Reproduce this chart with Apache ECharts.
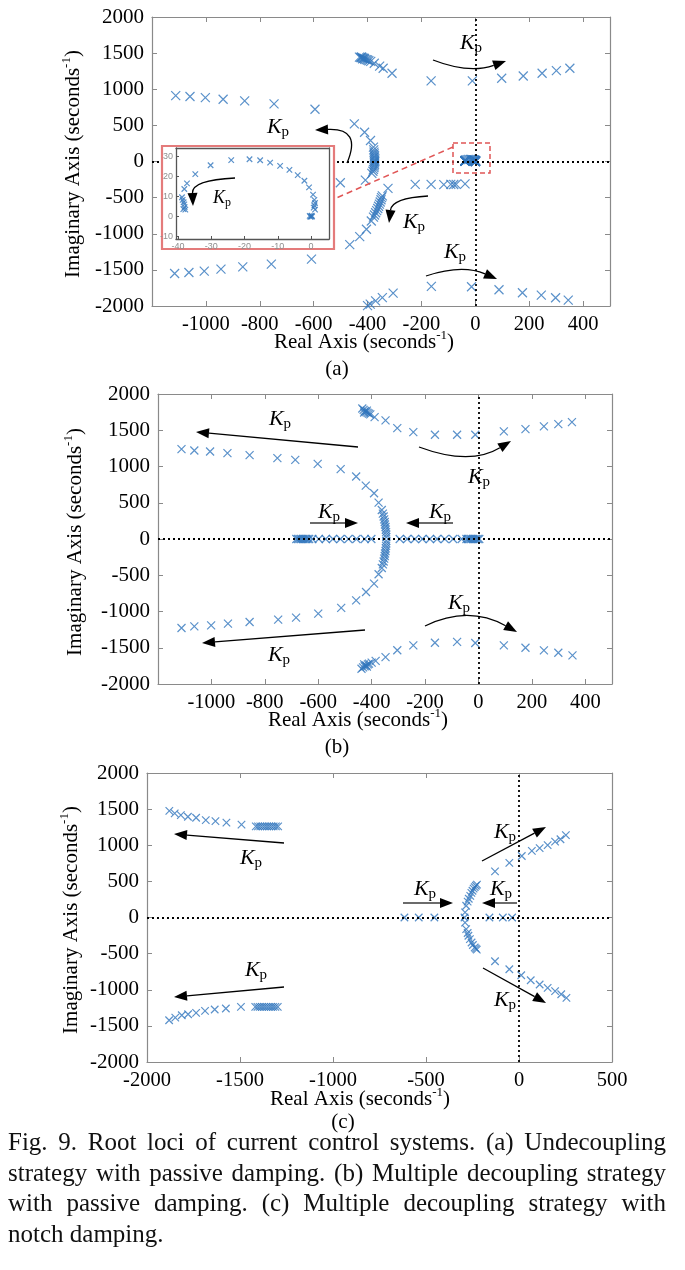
<!DOCTYPE html>
<html><head><meta charset="utf-8">
<script src="https://cdn.jsdelivr.net/npm/echarts@6/dist/echarts.min.js"></script>
<style>
html,body{margin:0;padding:0;background:#fff;}
#chart{position:absolute;left:0;top:0;width:685px;height:1270px;}
#cap{position:absolute;left:8px;top:1127px;width:658px;font-family:"Liberation Serif","Times New Roman",serif;font-size:25px;line-height:30.7px;color:#111;}
#cap .j{text-align:justify;text-align-last:justify;}
</style></head>
<body>
<div id="chart"></div>
<div id="cap">
<div class="j">Fig. 9. Root loci of current control systems. (a) Undecoupling</div>
<div class="j">strategy with passive damping. (b) Multiple decoupling strategy</div>
<div class="j">with passive damping. (c) Multiple decoupling strategy with</div>
<div>notch damping.</div>
</div>
<script>
// ---------- tick labels ----------
const abXTicks = [-1000, -800, -600, -400, -200, 0, 200, 400];
const cXTicks = [-2000, -1500, -1000, -500, 0, 500];
const yTicks = [-2000, -1500, -1000, -500, 0, 500, 1000, 1500, 2000];
const insetXTicks = [-40, -30, -20, -10, 0];
const insetYTicks = [-10, 0, 10, 20, 30];

// ---------- (a) undecoupling, passive damping ----------
const aUpperRight = [[-430,1445],[-425,1440],[-422,1447],[-420,1435],[-415,1430],[-418,1420],[-412,1425],[-410,1415],[-405,1410],[-400,1405],[-395,1395],[-388,1385],[-375,1360],[-355,1320],[-342,1290],[-309,1221],[-164,1115],[-11,1115],[98,1152],[178,1184],[248,1221],[301,1258],[351,1290]];
const aUpperLeft = [[-1112,912],[-1059,899],[-1002,885],[-936,862],[-856,839],[-747,797],[-595,723],[-449,521],[-411,405],[-389,290],[-378,198],[-377,160],[-376,130],[-375,105],[-374,80],[-374,60],[-373,40],[-373,20],[-373,0],[-374,-20],[-374,-40],[-375,-60],[-376,-85],[-378,-110],[-380,-135],[-384,-165],[-408,-258],[-501,-294]];
const aLowerLeft = [[-1116,-1550],[-1063,-1536],[-1006,-1518],[-944,-1490],[-863,-1458],[-757,-1421],[-608,-1352],[-466,-1150],[-429,-1039],[-404,-938],[-386,-823],[-378,-770],[-374,-740],[-370,-710],[-366,-680],[-362,-650],[-359,-620],[-356,-590],[-353,-560],[-350,-530],[-348,-500],[-345,-475],[-324,-372]];
const aNegRow = [[-223,-317],[-164,-317],[-117,-320],[-91,-317],[-80,-318],[-71,-317],[-38,-310]];
const aLowerRight = [[-400,-1995],[-390,-1975],[-370,-1930],[-345,-1885],[-305,-1821],[-163,-1728],[-14,-1734],[88,-1775],[175,-1817],[245,-1849],[298,-1886],[345,-1918]];
const aNearOrigin = [[-38.8,9.5],[-38.6,8.2],[-38.3,7.0],[-38.1,5.9],[-38.0,4.6],[-37.8,3.3],[-38.4,3.6],[-38.1,13.6],[-37.3,16.4],[-34.8,21],[-30.2,25.4],[-24,28],[-18.5,28.4],[-15.3,27.9],[-12.3,26.7],[-9.3,25.1],[-6.5,23.1],[-4,20.5],[-2,17.7],[-0.6,14.4],[0.6,10.8],[1.0,8.2],[1.2,6.6],[1.0,5.4],[0.8,4.3],[1.2,3.3],[-0.4,0.2],[0,0],[0.3,-0.1],[-0.2,-0.3],[0.2,0.3]];

// ---------- (b) multiple decoupling, passive damping ----------
const bUpperRight = [[-435,1800],[-430,1780],[-428,1745],[-425,1765],[-420,1750],[-418,1770],[-415,1740],[-410,1730],[-405,1720],[-389,1682],[-348,1636],[-304,1530],[-244,1475],[-163,1438],[-80,1438],[-12,1438],[95,1484],[176,1516],[245,1553],[299,1585],[350,1613]];
const bUpperLeft = [[-1112,1240],[-1064,1221],[-1005,1207],[-940,1184],[-857,1157],[-753,1115],[-686,1092],[-602,1037],[-516,963],[-458,862],[-422,737],[-391,631],[-374,502],[-362,400],[-358,350],[-355,310],[-353,270],[-351,235],[-350,200],[-348,165],[-347,130],[-346,95],[-345,60],[-345,25]];
const bLowerLeft = [[-345,-25],[-345,-60],[-346,-95],[-347,-130],[-348,-165],[-350,-200],[-351,-235],[-353,-270],[-355,-310],[-358,-350],[-362,-400],[-374,-486],[-391,-615],[-421,-731],[-458,-846],[-514,-951],[-600,-1030],[-683,-1085],[-750,-1113],[-857,-1145],[-938,-1168],[-1001,-1191],[-1064,-1205],[-1112,-1228]];
const bLowerRight = [[-438,-1790],[-432,-1770],[-428,-1730],[-426,-1755],[-420,-1745],[-418,-1760],[-414,-1730],[-410,-1720],[-400,-1705],[-385,-1680],[-348,-1630],[-304,-1535],[-244,-1468],[-163,-1431],[-80,-1420],[-12,-1435],[95,-1468],[176,-1500],[245,-1537],[299,-1569],[352,-1606]];
const bRealAxis = [[-682,0],[-676,0],[-670,0],[-664,0],[-658,0],[-652,0],[-646,0],[-640,0],[-634,0],[-622,0],[-598,0],[-572,0],[-545,0],[-517,0],[-487,0],[-457,0],[-426,0],[-401,0],[-295,0],[-267,0],[-238,0],[-210,0],[-182,0],[-155,0],[-126,0],[-95,0],[-63,0],[-45,0],[-39,0],[-33,0],[-27,0],[-21,0],[-15,0],[-9,0],[-3,0],[3,0]];

// ---------- (c) multiple decoupling, notch damping ----------
const cUpperLeft = [[-1880,1475],[-1851,1442],[-1818,1418],[-1780,1395],[-1736,1381],[-1684,1347],[-1632,1333],[-1573,1314],[-1492,1286],[-1415,1262],[-1403,1262],[-1391,1262],[-1379,1262],[-1367,1262],[-1355,1262],[-1343,1262],[-1331,1262],[-1319,1262],[-1307,1262],[-1295,1262]];
const cLowerLeft = [[-1881,-1422],[-1848,-1385],[-1813,-1353],[-1779,-1339],[-1736,-1320],[-1688,-1293],[-1636,-1274],[-1576,-1260],[-1495,-1237],[-1418,-1237],[-1406,-1237],[-1394,-1237],[-1382,-1237],[-1370,-1237],[-1358,-1237],[-1346,-1237],[-1334,-1237],[-1322,-1237],[-1310,-1237],[-1297,-1237]];
const cUpperRight = [[-129,638],[-52,757],[15,851],[69,922],[111,960],[154,1002],[194,1050],[223,1083],[252,1140]];
const cLowerRight = [[-129,-605],[-52,-716],[12,-799],[63,-868],[111,-928],[154,-974],[194,-1020],[227,-1062],[255,-1113]];
const cRealAxis = [[-616,0],[-539,0],[-455,0],[-293,0],[-159,0],[-87,0],[-37,0]];
const cArc = [[-290,70],[-284,162],[-276,220],[-270,260],[-262,300],[-256,340],[-250,370],[-244,400],[-238,420],[-232,440],[-226,455],[-290,-70],[-284,-161],[-276,-215],[-272,-253],[-264,-300],[-255,-346],[-248,-380],[-238,-415],[-232,-430],[-227,-445]];

// ---------- styling ----------
const SERIF = '"Liberation Serif","Times New Roman",serif';
const BLUE = '#3176bd';
const AXC = '#8a8a8a';
const CROSS = 'path://M0,0L10,10M10,0L0,10';
const plainNum = v => String(v);

function xAx(grid, min, max, ticks, pos, labels, extra) {
  return Object.assign({
    type: 'value', gridIndex: grid, min: min, max: max, position: pos,
    axisLine: { show: true, onZero: false, lineStyle: { color: AXC, width: 1.2 } },
    axisTick: { show: true, inside: true, length: 5, customValues: ticks, lineStyle: { color: AXC } },
    axisLabel: { show: labels, customValues: ticks, formatter: plainNum, color: '#000', fontFamily: SERIF, fontSize: 20.5, margin: 8 },
    splitLine: { show: false }
  }, extra || {});
}
function yAx(grid, min, max, ticks, pos, labels, extra) {
  return Object.assign({
    type: 'value', gridIndex: grid, min: min, max: max, position: pos,
    axisLine: { show: true, onZero: false, lineStyle: { color: AXC, width: 1.2 } },
    axisTick: { show: true, inside: true, length: 5, customValues: ticks, lineStyle: { color: AXC } },
    axisLabel: { show: labels, customValues: ticks, formatter: plainNum, color: '#000', fontFamily: SERIF, fontSize: 21, margin: 8 },
    splitLine: { show: false }
  }, extra || {});
}
const zeroLines = (w, dash) => ({
  silent: true, symbol: ['none', 'none'], label: { show: false },
  lineStyle: { color: '#000', type: dash, width: w }, emphasis: { disabled: true },
  data: [{ xAxis: 0 }, { yAxis: 0 }]
});
function sc(data, idx, size, z, ml) {
  const s = {
    type: 'scatter', xAxisIndex: idx, yAxisIndex: idx, data: data,
    symbol: CROSS, symbolSize: size, z: z,
    itemStyle: { color: 'rgba(0,0,0,0)', borderColor: BLUE, borderWidth: 1.2 },
    emphasis: { disabled: true }
  };
  if (ml) s.markLine = ml;
  return s;
}

// ---------- annotation helpers (pixel layout) ----------
function arrow(from, to, ctrl, lineColor) {
  const L = 13, W = 5;
  const src = ctrl || from;
  let dx = to[0] - src[0], dy = to[1] - src[1];
  const n = Math.hypot(dx, dy); dx /= n; dy /= n;
  const bx = to[0] - dx * L, by = to[1] - dy * L;
  const lc = lineColor || '#000';
  const els = [];
  if (ctrl) {
    els.push({ type: 'bezierCurve', z: 90, shape: { x1: from[0], y1: from[1], x2: bx, y2: by, cpx1: ctrl[0], cpy1: ctrl[1] }, style: { stroke: lc, lineWidth: 1.3, fill: null } });
  } else {
    els.push({ type: 'line', z: 90, shape: { x1: from[0], y1: from[1], x2: bx, y2: by }, style: { stroke: lc, lineWidth: lineColor ? 2 : 1.3 } });
  }
  els.push({ type: 'polygon', z: 91, shape: { points: [[to[0], to[1]], [bx - dy * W, by + dx * W], [bx + dy * W, by - dx * W]] }, style: { fill: '#000' } });
  return els;
}
function kp(x, y, big) {
  const fk = big ? 22 : 18, fp = big ? 15 : 12;
  return { type: 'text', z: 92, x: x, y: y, style: {
    text: '{k|K}{p|p}', align: 'center', verticalAlign: 'middle',
    rich: { k: { fontFamily: SERIF, fontStyle: 'italic', fontSize: fk, lineHeight: fk + 4, fill: '#000' },
            p: { fontFamily: SERIF, fontSize: fp, lineHeight: fp, verticalAlign: 'bottom', fill: '#000' } } } };
}
function title(x, y, txt, rot) {
  return { type: 'text', z: 92, x: x, y: y, rotation: rot ? Math.PI / 2 : 0, style: {
    text: txt, align: 'center', verticalAlign: 'middle',
    rich: { t: { fontFamily: SERIF, fontSize: 21, lineHeight: 26, fill: '#000' },
            s: { fontFamily: SERIF, fontSize: 13, lineHeight: 14, verticalAlign: 'top', fill: '#000' } } } };
}
const IMAG = '{t|Imaginary Axis (seconds}{s|-1}{t|)}';
const REAL = '{t|Real Axis (seconds}{s|-1}{t|)}';
function plain(x, y, txt) {
  return { type: 'text', z: 92, x: x, y: y, style: { text: txt, align: 'center', verticalAlign: 'middle', fontFamily: SERIF, fontSize: 21, fill: '#000' } };
}

const graphics = [].concat(
  // inset frame and zoom marker
  [{ type: 'rect', z: 50, shape: { x: 162, y: 146, width: 172, height: 103 }, style: { fill: '#fff', stroke: '#e47b7b', lineWidth: 2.2 } },
   { type: 'rect', z: 40, shape: { x: 453, y: 143, width: 37, height: 30 }, style: { fill: null, stroke: '#e05555', lineWidth: 1.5, lineDash: [5, 3] } },
   { type: 'line', z: 40, shape: { x1: 453, y1: 147, x2: 334, y2: 199 }, style: { stroke: '#e05555', lineWidth: 1.5, lineDash: [6, 4] } }],
  // (a)
  arrow([433, 60], [506, 61], [469, 74]), [kp(471, 43, true)],
  arrow([347, 163], [315, 130], [362, 128]), [kp(278, 127, true)],
  arrow([428, 196], [389, 223], [392, 198]), [kp(414, 222, true)],
  arrow([426, 276], [497, 279], [462, 264]), [kp(455, 252, true)],
  arrow([235, 178], [193, 206], [192, 180]), [kp(222, 198, false)],
  [title(73, 164, IMAG, true), title(364, 342, REAL), plain(337, 369, '(a)')],
  // (b)
  arrow([358, 447], [196, 432]), [kp(280, 419, true)],
  arrow([419, 447], [511, 441], [470, 466]), [kp(479, 477, true)],
  arrow([310, 523], [358, 523], null, '#6b6b6b'), [kp(329, 512, true)],
  arrow([453, 523], [406, 523], null, '#6b6b6b'), [kp(440, 512, true)],
  arrow([425, 626], [517, 632], [468, 605]), [kp(459, 603, true)],
  arrow([365, 630], [202, 643]), [kp(279, 655, true)],
  [title(75, 542, IMAG, true), title(358, 720, REAL), plain(337, 747, '(b)')],
  // (c)
  arrow([284, 843], [174, 834]), [kp(251, 858, true)],
  arrow([284, 987], [174, 997]), [kp(256, 970, true)],
  arrow([403, 903], [453, 903], null, '#6b6b6b'), [kp(425, 889, true)],
  arrow([517, 903], [482, 903], null, '#6b6b6b'), [kp(501, 889, true)],
  arrow([482, 861], [546, 827]), [kp(505, 832, true)],
  arrow([483, 968], [546, 1003]), [kp(505, 1000, true)],
  [title(71, 920, IMAG, true), title(360, 1099, REAL), plain(343, 1122, '(c)')]
);

const insetLabel = { color: '#8f8f8f', fontFamily: '"Liberation Sans",Arial,sans-serif', fontSize: 9, margin: 3, formatter: plainNum };
const insetLine = { show: true, onZero: false, lineStyle: { color: '#555', width: 1.3 } };

const option = {
  animation: false,
  backgroundColor: '#fff',
  grid: [
    { left: 152, top: 17, width: 458, height: 289 },
    { left: 158, top: 394, width: 454, height: 290 },
    { left: 147, top: 773, width: 465, height: 289 },
    { left: 176, top: 148, width: 153, height: 91 }
  ],
  xAxis: [
    xAx(0, -1200, 500, abXTicks, 'bottom', true),
    xAx(0, -1200, 500, abXTicks, 'top', false),
    xAx(1, -1200, 500, abXTicks, 'bottom', true),
    xAx(1, -1200, 500, abXTicks, 'top', false),
    xAx(2, -2000, 500, cXTicks, 'bottom', true),
    xAx(2, -2000, 500, cXTicks, 'top', false),
    xAx(3, -40.6, 5.4, insetXTicks, 'bottom', true, { z: 60, axisLine: insetLine, axisTick: { show: true, inside: true, length: 3, customValues: insetXTicks, lineStyle: { color: '#555' } }, axisLabel: Object.assign({ show: true, customValues: insetXTicks }, insetLabel) }),
    xAx(3, -40.6, 5.4, insetXTicks, 'top', false, { z: 60, axisLine: insetLine, axisTick: { show: false } })
  ],
  yAxis: [
    yAx(0, -2000, 2000, yTicks, 'left', true),
    yAx(0, -2000, 2000, yTicks, 'right', false),
    yAx(1, -2000, 2000, yTicks, 'left', true),
    yAx(1, -2000, 2000, yTicks, 'right', false),
    yAx(2, -2000, 2000, yTicks, 'left', true),
    yAx(2, -2000, 2000, yTicks, 'right', false),
    yAx(3, -11.3, 34, insetYTicks, 'left', true, { z: 60, axisLine: insetLine, axisTick: { show: true, inside: true, length: 3, customValues: insetYTicks, lineStyle: { color: '#555' } }, axisLabel: Object.assign({ show: true, customValues: insetYTicks }, insetLabel) }),
    yAx(3, -11.3, 34, insetYTicks, 'right', false, { z: 60, axisLine: insetLine, axisTick: { show: false } })
  ],
  series: [
    sc(aUpperRight, 0, 9, 2, zeroLines(1.8, [2, 3])),
    sc(aUpperLeft, 0, 9, 2), sc(aLowerLeft, 0, 9, 2), sc(aNegRow, 0, 9, 2),
    sc(aLowerRight, 0, 9, 2), sc(aNearOrigin, 0, 9, 2),
    sc(bUpperRight, 2, 8, 2, zeroLines(1.8, [2, 3])),
    sc(bUpperLeft, 2, 8, 2), sc(bLowerLeft, 2, 8, 2), sc(bLowerRight, 2, 8, 2), sc(bRealAxis, 2, 8, 2),
    sc(cUpperLeft, 4, 7.5, 2, zeroLines(1.8, [2, 3])),
    sc(cLowerLeft, 4, 7.5, 2), sc(cUpperRight, 4, 7.5, 2), sc(cLowerRight, 4, 7.5, 2),
    sc(cRealAxis, 4, 7.5, 2), sc(cArc, 4, 7.5, 2),
    sc(aNearOrigin, 6, 5.5, 70, zeroLines(1.2, [1.5, 2]))
  ],
  graphic: { elements: graphics }
};

const chart = echarts.init(document.getElementById('chart'), null, { renderer: 'canvas' });
chart.setOption(option);
</script>
</body></html>
